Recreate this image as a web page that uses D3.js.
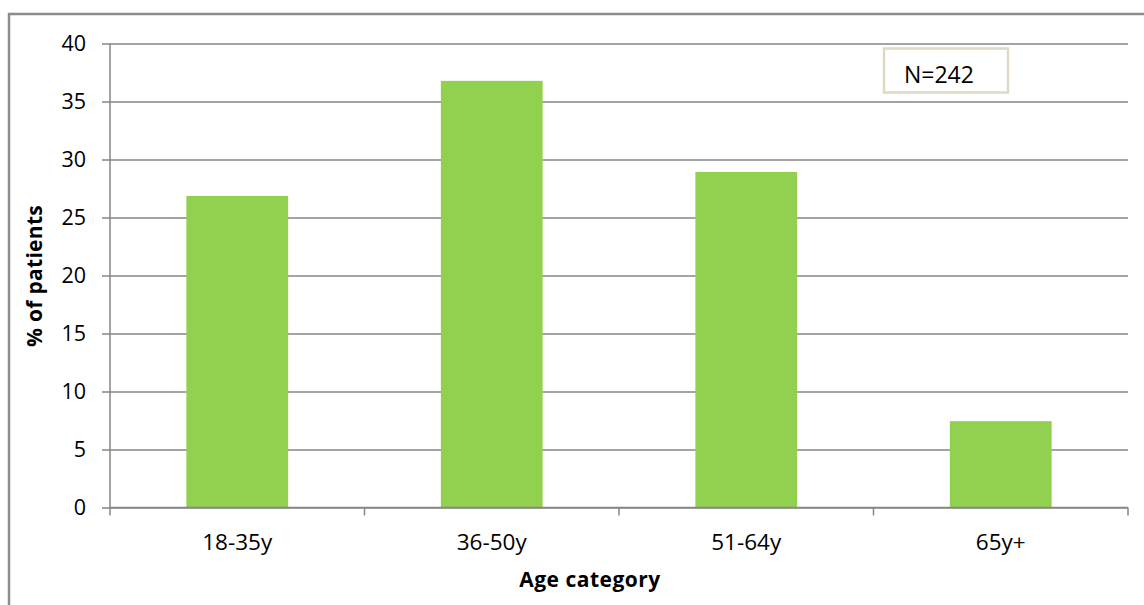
<!DOCTYPE html>
<html>
<head>
<meta charset="utf-8">
<script src="https://cdn.jsdelivr.net/npm/d3@7"></script>
<style>
  html, body { margin: 0; padding: 0; background: #fff; }
  svg { display: block; }
  text { font-family: "Open Sans", "Liberation Sans", sans-serif; fill: #000; }
</style>
</head>
<body>
<svg id="chart" width="1144" height="605"></svg>
<script>
// Age distribution of patients (N = 242)
const categories = ["18-35y", "36-50y", "51-64y", "65y+"];
const percents = [26.86, 36.78, 28.93, 7.44];
const yTicks = [0, 5, 10, 15, 20, 25, 30, 35, 40];
const sampleLabel = "N=242";
const xTitle = "Age category";
const yTitle = "% of patients";

const svg = d3.select("#chart");

const plot = { left: 110, right: 1128, top: 43.5, bottom: 507.5 };

// Outer chart frame
svg.append("rect")
  .attr("x", 9).attr("y", 14)
  .attr("width", 1160).attr("height", 620)
  .attr("fill", "none")
  .attr("stroke", "#8c8c8c")
  .attr("stroke-width", 2.5);

const x = d3.scaleBand()
  .domain(categories)
  .range([plot.left, plot.right])
  .padding(0);

const y = d3.scaleLinear()
  .domain([0, 40])
  .range([plot.bottom, plot.top]);

const gridColor = "#868686";

// Horizontal gridlines with left tick marks
const yAxis = d3.axisLeft(y)
  .tickValues(yTicks)
  .tickSize(plot.right - plot.left + 8)
  .tickPadding(16)
  .tickFormat(d3.format("d"));

const gy = svg.append("g")
  .attr("transform", `translate(${plot.right},0)`)
  .call(yAxis);
gy.select(".domain").remove();
gy.selectAll(".tick line")
  .attr("stroke", gridColor)
  .attr("stroke-width", 1.5);
gy.selectAll(".tick text")
  .attr("font-size", 21.5)
  .attr("font-family", "'Open Sans', sans-serif")
  .attr("fill", "#000");

// Bars
const barFrac = 0.4;
svg.append("g").selectAll("rect")
  .data(categories.map((c, i) => ({ c, v: percents[i] })))
  .join("rect")
  .attr("x", d => x(d.c) + x.bandwidth() * (1 - barFrac) / 2)
  .attr("width", x.bandwidth() * barFrac)
  .attr("y", d => y(d.v))
  .attr("height", d => y(0) - y(d.v))
  .attr("fill", "#92d050");

// Vertical axis line
svg.append("line")
  .attr("x1", plot.left).attr("x2", plot.left)
  .attr("y1", plot.top).attr("y2", plot.bottom + 8)
  .attr("stroke", gridColor).attr("stroke-width", 1.5);

// Category axis with ticks between categories
svg.append("line")
  .attr("x1", plot.left).attr("x2", plot.right)
  .attr("y1", plot.bottom).attr("y2", plot.bottom)
  .attr("stroke", gridColor).attr("stroke-width", 1.5);

const boundaries = categories.map(c => x(c) + x.bandwidth());
svg.append("g").selectAll("line")
  .data(boundaries)
  .join("line")
  .attr("x1", d => d).attr("x2", d => d)
  .attr("y1", plot.bottom).attr("y2", plot.bottom + 8)
  .attr("stroke", gridColor).attr("stroke-width", 1.5);

svg.append("g").selectAll("text")
  .data(categories)
  .join("text")
  .attr("x", d => x(d) + x.bandwidth() / 2)
  .attr("y", 550)
  .attr("text-anchor", "middle")
  .attr("font-size", 22.5)
  .text(d => d);

// Axis titles
svg.append("text")
  .attr("x", 590)
  .attr("y", 587)
  .attr("text-anchor", "middle")
  .attr("font-size", 21)
  .attr("font-weight", "bold")
  .attr("letter-spacing", 0.5)
  .text(xTitle);

svg.append("text")
  .attr("transform", "translate(42,276) rotate(-90)")
  .attr("text-anchor", "middle")
  .attr("font-size", 21)
  .attr("font-weight", "bold")
  .attr("letter-spacing", 0.3)
  .text(yTitle);

// Sample size box
svg.append("rect")
  .attr("x", 884).attr("y", 48.5)
  .attr("width", 124).attr("height", 44)
  .attr("fill", "#fff")
  .attr("stroke", "#ddd9c3")
  .attr("stroke-width", 2.5);
svg.append("text")
  .attr("x", 904).attr("y", 83)
  .attr("font-size", 23)
  .text(sampleLabel);
</script>
</body>
</html>
